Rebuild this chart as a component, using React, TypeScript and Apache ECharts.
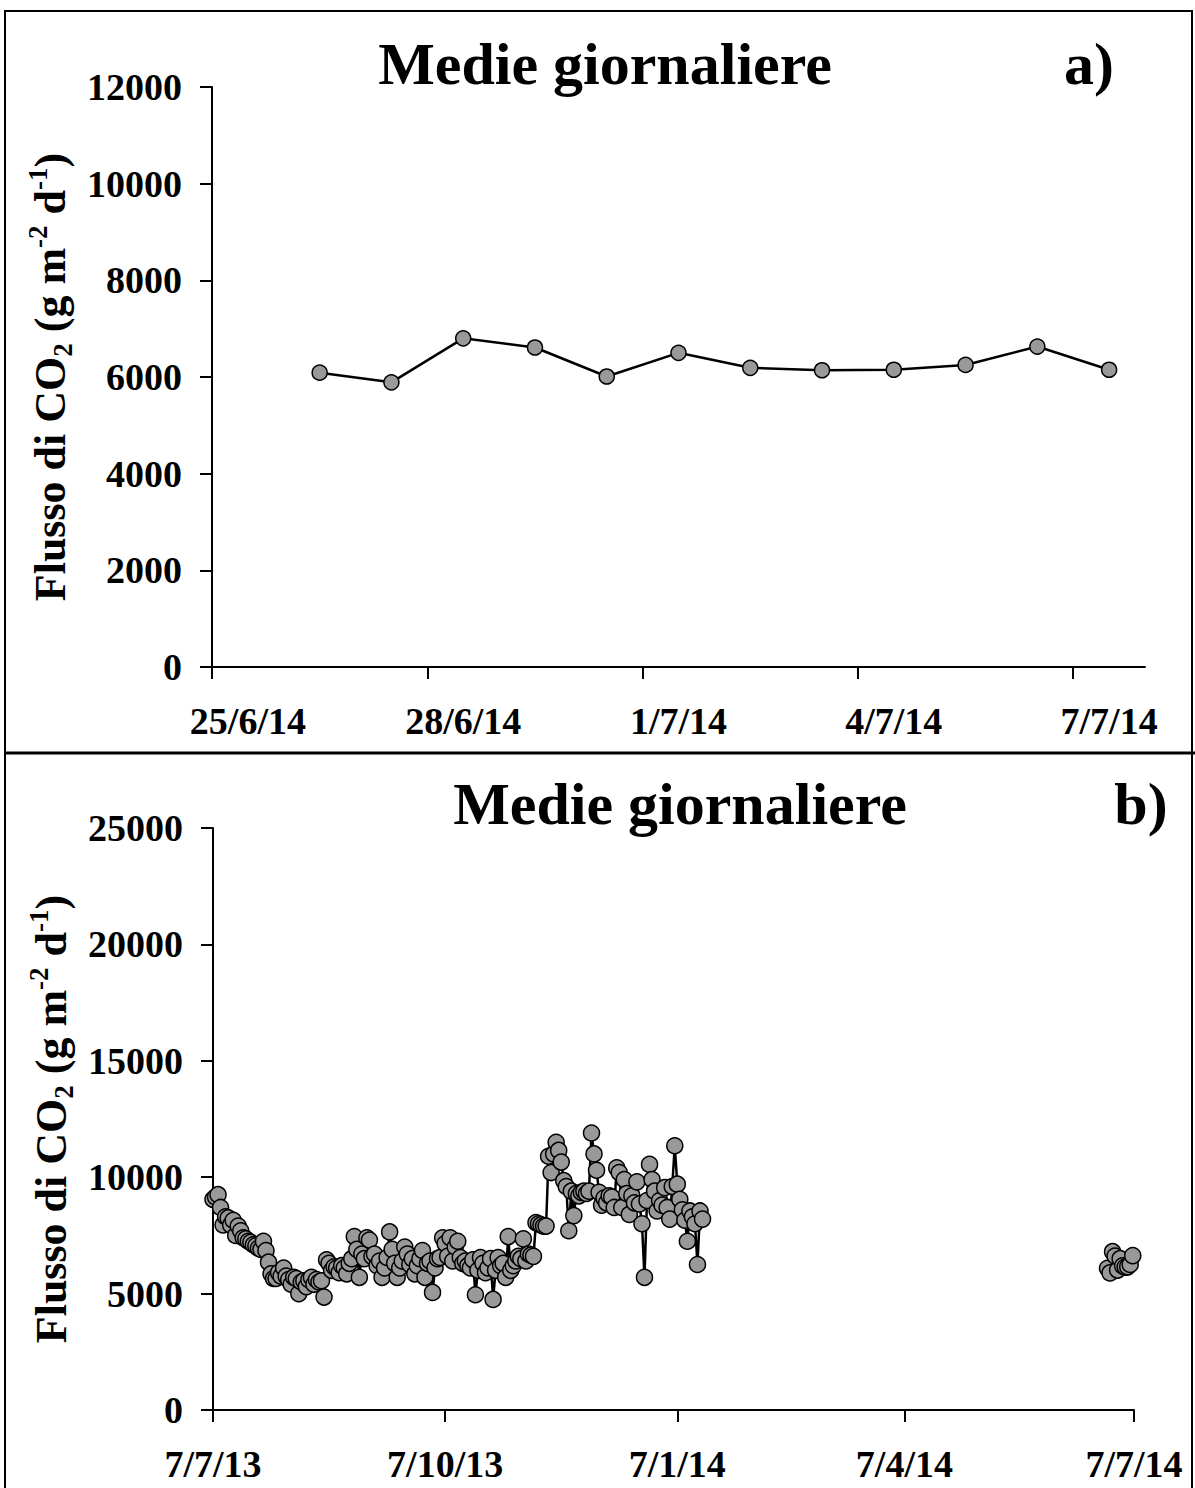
import React, { useEffect, useRef } from "react";
import * as echarts from "echarts";

// ---------- DATA ----------
// Panel a) daily means, 26/6/14 .. 7/7/14
const aDates = ["26/6/14", "27/6/14", "28/6/14", "29/6/14", "30/6/14", "1/7/14", "2/7/14", "3/7/14", "4/7/14", "5/7/14", "6/7/14", "7/7/14"];
const aValues = [6090, 5890, 6800, 6610, 6010, 6500, 6190, 6140, 6150, 6250, 6630, 6150];
const aTickDates = ["25/6/14", "28/6/14", "1/7/14", "4/7/14", "7/7/14"];
const aRange = ["25/6/14", "8/7/14"];
const aYMax = 12000;
const aYStep = 2000;

// Panel b) daily means starting 7/7/13 (one value per consecutive day)
const bStart = "7/7/13";
const bDaily = [
  9050, 9150, 9250, 8700, 7950, 8300, 8250, 7950, 8150, 7500,
  7900, 7700, 7400, 7350, 7250, 7200, 7100, 7050, 6950, 6900,
  7250, 6850, 6350, 5850, 5650, 5650, 5900, 5750, 6100, 5750,
  5600, 5400, 5700, 5650, 5000, 5500, 5550, 5300, 5600, 5700,
  5400, 5600, 5500, 5550, 4850, 6450, 6300, 6000, 6150, 6100,
  5900, 6200, 6100, 5850, 6300, 6500, 7450, 6900, 5700, 6700,
  6500, 7400, 7300, 6600, 6700, 6200, 6400, 5700, 6100, 6550,
  7650, 6900, 6300, 5700, 6100, 6400, 7000, 6700, 6250, 6500,
  5850, 6200, 6500, 6850, 5700, 6300, 6400, 5050, 6100, 6500,
  6550, 7400, 7150, 6600, 7400, 6400, 7000, 7250, 6550, 6300,
  6400, 6200, 6100, 6450, 4950, 6000, 6550, 6300, 5900, 6100,
  6500, 4750, 6000, 6550, 6200, 6300, 5700, 7450, 6000, 6200,
  6400, 6600, 6500, 7350, 6400, 6700, 6650, 6600, 8050, 8000,
  7950, 7900, 7900, 10900, 10200, 11000, 11500, 11150, 10650, 9850,
  9600, 7700, 9400, 8350, 9300, 9200, 9350, 9400, 9300, 9400,
  11900, 11000, 10300, 9350, 8800, 9100, 8900, 9200, 9150, 8700,
  10400, 10200, 8700, 9900, 9300, 8400, 9200, 8900, 9800, 8850,
  8000, 5700, 9000, 10550, 9900, 9400, 8550, 9000, 8800, 9550,
  8700, 8200, 9600, 11350, 9700, 9050, 8600, 8150, 7250, 8550,
  8300, 8000, 6250, 8550, 8200,
];
// Late cluster in panel b) = same daily means as panel a)
const bLateDates = aDates;
const bLateValues = aValues;
const bTickDates = ["7/7/13", "7/10/13", "7/1/14", "7/4/14", "7/7/14"];
const bRange = ["7/7/13", "7/7/14"];
const bYMax = 25000;
const bYStep = 5000;

const titleText = "Medie giornaliere";
const yName = "{n|Flusso di CO}{sub|2}{n| (g m}{sup|-2}{n| d}{sup|-1}{n|)}";

// ---------- HELPERS ----------
const DAY = 86400000;
const HALF = DAY / 2;
function parseDMY(s: string): number {
  const [d, m, y] = s.split("/").map(Number);
  return Date.UTC(2000 + y, m - 1, d);
}
function fmtDMY(v: number): string {
  const dt = new Date(v);
  return `${dt.getUTCDate()}/${dt.getUTCMonth() + 1}/${String(dt.getUTCFullYear()).slice(2)}`;
}

const FONT = '"Liberation Serif", "Times New Roman", serif';

const axisLabelStyle = {
  fontFamily: FONT,
  fontWeight: "bold" as const,
  fontSize: 38,
  color: "#000",
};

const nameStyle = {
  fontFamily: FONT,
  fontWeight: "bold" as const,
  fontSize: 44,
  color: "#000",
  rich: {
    n: { fontFamily: FONT, fontWeight: "bold", fontSize: 44, lineHeight: 52, color: "#000" },
    sub: { fontFamily: FONT, fontWeight: "bold", fontSize: 27, lineHeight: 26, verticalAlign: "bottom", color: "#000" },
    sup: { fontFamily: FONT, fontWeight: "bold", fontSize: 27, lineHeight: 26, verticalAlign: "top", color: "#000" },
  },
};

const lineAxis = { show: true, onZero: false, lineStyle: { color: "#000", width: 2 } };
const tickBase = { show: true, inside: false, length: 12, lineStyle: { color: "#000", width: 2 } };

const markerStyle = { color: "#999999", borderColor: "#000", borderWidth: 1.5 };

export default function App() {
  const ref = useRef<HTMLDivElement>(null);

  useEffect(() => {
    if (!ref.current) return;
    const chart = echarts.init(ref.current, undefined, { renderer: "svg" });

    const aData = aDates.map((d, i) => [parseDMY(d) + HALF, aValues[i]]);
    const b0 = parseDMY(bStart);
    const bData = bDaily.map((v, i) => [b0 + i * DAY, v]);
    const bLate = bLateDates.map((d, i) => [parseDMY(d) + HALF, bLateValues[i]]);

    const aTicks = aTickDates.map(parseDMY);
    const bTicks = bTickDates.map(parseDMY);

    const yLabel = { ...axisLabelStyle, margin: 30, formatter: (v: number) => String(v) };

    chart.setOption({
      animation: false,
      backgroundColor: "#fff",
      grid: [
        { left: 212, top: 87, width: 933, height: 580, containLabel: false },
        { left: 213, top: 828, width: 921, height: 582, containLabel: false },
      ],
      xAxis: [
        {
          type: "value",
          gridIndex: 0,
          min: parseDMY(aRange[0]),
          max: parseDMY(aRange[1]),
          axisLine: lineAxis,
          axisTick: { ...tickBase, customValues: aTicks },
          axisLabel: {
            ...axisLabelStyle,
            margin: 35,
            customValues: aTicks.map((t) => t + HALF),
            formatter: (v: number) => fmtDMY(v),
          },
          splitLine: { show: false },
        },
        {
          type: "value",
          gridIndex: 1,
          min: parseDMY(bRange[0]),
          max: parseDMY(bRange[1]),
          axisLine: lineAxis,
          axisTick: { ...tickBase, customValues: bTicks },
          axisLabel: {
            ...axisLabelStyle,
            margin: 35,
            customValues: bTicks,
            formatter: (v: number) => fmtDMY(v),
          },
          splitLine: { show: false },
        },
      ],
      yAxis: [
        {
          type: "value",
          gridIndex: 0,
          min: 0,
          max: aYMax,
          interval: aYStep,
          axisLine: lineAxis,
          axisTick: tickBase,
          axisLabel: yLabel,
          splitLine: { show: false },
          name: yName,
          nameLocation: "middle",
          nameRotate: 90,
          nameGap: 136,
          nameTextStyle: nameStyle,
        },
        {
          type: "value",
          gridIndex: 1,
          min: 0,
          max: bYMax,
          interval: bYStep,
          axisLine: lineAxis,
          axisTick: tickBase,
          axisLabel: yLabel,
          splitLine: { show: false },
          name: yName,
          nameLocation: "middle",
          nameRotate: 90,
          nameGap: 136,
          nameTextStyle: nameStyle,
        },
      ],
      series: [
        {
          type: "line",
          xAxisIndex: 0,
          yAxisIndex: 0,
          data: aData,
          symbol: "circle",
          symbolSize: 15,
          itemStyle: markerStyle,
          lineStyle: { color: "#000", width: 2.5 },
        },
        {
          type: "line",
          xAxisIndex: 1,
          yAxisIndex: 1,
          data: bData,
          symbol: "circle",
          symbolSize: 16,
          itemStyle: markerStyle,
          lineStyle: { color: "#000", width: 2.5 },
        },
        {
          type: "line",
          xAxisIndex: 1,
          yAxisIndex: 1,
          data: bLate,
          symbol: "circle",
          symbolSize: 16,
          itemStyle: markerStyle,
          lineStyle: { color: "#000", width: 2.5 },
        },
      ],
      graphic: [
        {
          type: "rect",
          shape: { x: 5, y: 11, width: 1187, height: 1490 },
          style: { fill: "none", stroke: "#000", lineWidth: 2 },
          silent: true,
        },
        {
          type: "line",
          shape: { x1: 5, y1: 753, x2: 1195, y2: 753 },
          style: { stroke: "#000", lineWidth: 3 },
          silent: true,
        },
        {
          type: "text",
          x: 605,
          y: 64,
          style: { text: titleText, font: `bold 60px ${FONT}`, fill: "#000", align: "center", verticalAlign: "middle" },
        },
        {
          type: "text",
          x: 1089,
          y: 64,
          style: { text: "a)", font: `bold 60px ${FONT}`, fill: "#000", align: "center", verticalAlign: "middle" },
        },
        {
          type: "text",
          x: 680,
          y: 804,
          style: { text: titleText, font: `bold 60px ${FONT}`, fill: "#000", align: "center", verticalAlign: "middle" },
        },
        {
          type: "text",
          x: 1141,
          y: 804,
          style: { text: "b)", font: `bold 60px ${FONT}`, fill: "#000", align: "center", verticalAlign: "middle" },
        },
      ],
    });

    return () => chart.dispose();
  }, []);

  return (
    <div
      ref={ref}
      style={{ position: "absolute", left: 0, top: 0, width: 1195, height: 1488, background: "#fff" }}
    />
  );
}
